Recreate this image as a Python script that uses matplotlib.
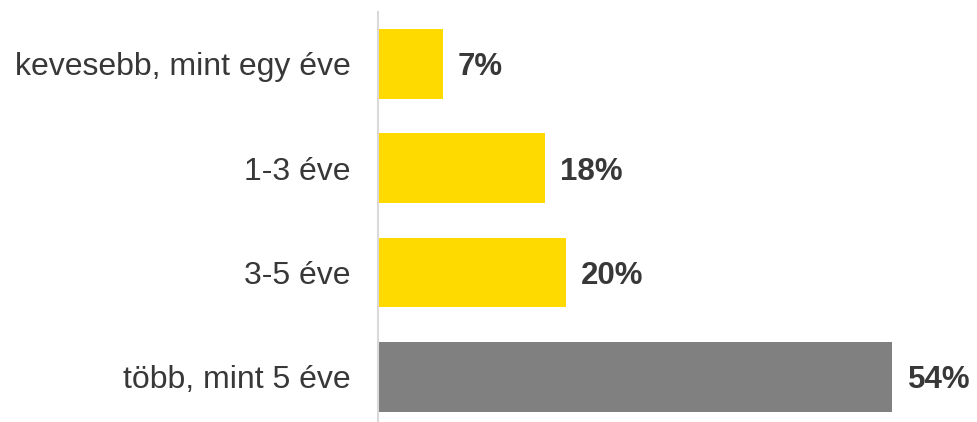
import matplotlib.pyplot as plt

categories = ["kevesebb, mint egy éve", "1-3 éve", "3-5 éve", "több, mint 5 éve"]
values = [6.8, 17.5, 19.7, 54.0]
labels = ["7%", "18%", "20%", "54%"]
colors = ["#FFDA00", "#FFDA00", "#FFDA00", "#808080"]

plt.rcParams['font.family'] = ['Liberation Sans', 'DejaVu Sans']

fig = plt.figure(figsize=(9.77, 4.22), dpi=100)
ax = fig.add_axes([0.387, 0.0, 0.613, 0.972])

pos = list(range(len(categories)))
ax.barh(pos, values, height=0.667, color=colors)

for p, v, lab in zip(pos, values, labels):
    ax.text(v + 1.6, p, lab, va="center_baseline", ha="left",
            fontsize=22.5, fontweight="bold", color="#383838")

ax.set_yticks(pos)
ax.set_yticklabels(categories, fontsize=23, color="#383838")
ax.tick_params(axis="y", length=0, pad=20)
ax.set_xticks([])
ax.set_xlim(0, 62.9)
ax.set_ylim(3.434, -0.5)

for s in ["top", "right", "bottom"]:
    ax.spines[s].set_visible(False)
ax.spines["left"].set_color("#d9d9d9")
ax.spines["left"].set_linewidth(1.5)

fig.savefig("out.png", dpi=100)
